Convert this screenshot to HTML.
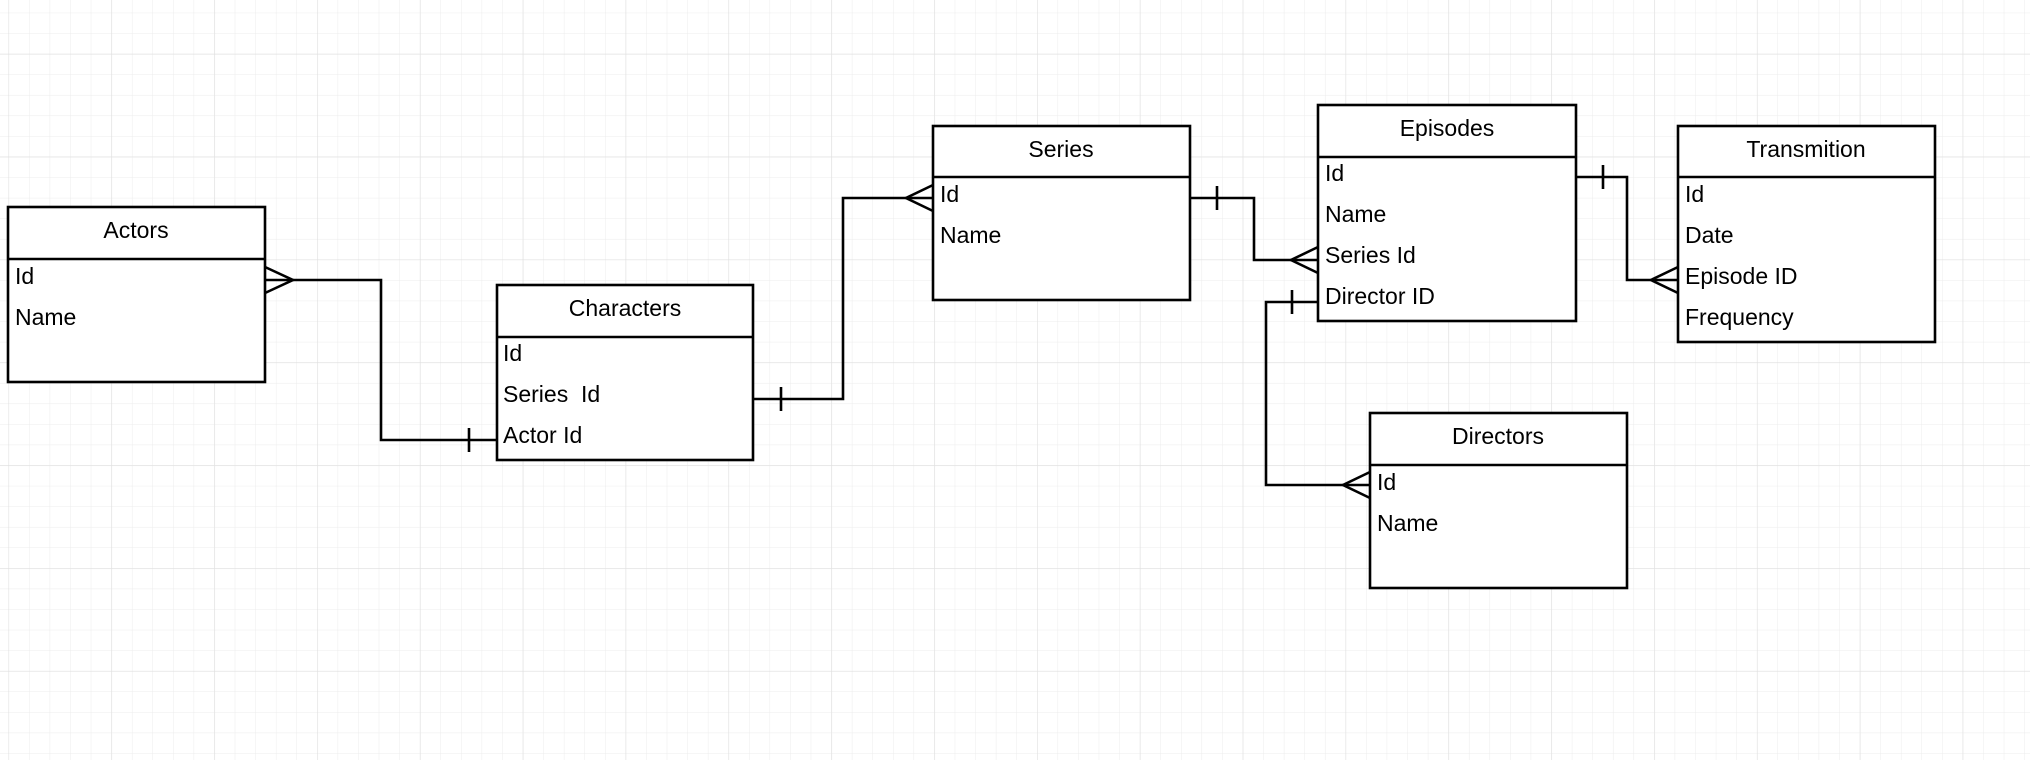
<!DOCTYPE html>
<html><head><meta charset="utf-8"><style>
html,body{margin:0;padding:0;background:#fff;}
svg{display:block;}
text{font-family:"Liberation Sans",sans-serif;font-size:23px;fill:#000;}
</style></head><body>
<svg width="2030" height="760" xmlns="http://www.w3.org/2000/svg">
<defs>
<pattern id="minor" x="8.5" y="12.7" width="20.57" height="20.57" patternUnits="userSpaceOnUse">
<path d="M0 0H20.57M0 0V20.57" stroke="#ececec" stroke-width="1" fill="none"/>
</pattern>
<pattern id="major" x="8.5" y="53.8" width="102.85" height="102.85" patternUnits="userSpaceOnUse">
<path d="M0 0H102.85M0 0V102.85" stroke="#e0e0e0" stroke-width="1.2" fill="none"/>
</pattern>
</defs>
<rect width="2030" height="760" fill="#fff"/>
<rect width="2030" height="760" fill="url(#minor)"/>
<rect width="2030" height="760" fill="url(#major)"/>

<g fill="none" stroke="#000" stroke-width="2.6">
<rect x="8" y="207" width="257" height="175" fill="#fff"/><line x1="8" y1="259" x2="265" y2="259"/>
<rect x="497" y="285" width="256" height="175" fill="#fff"/><line x1="497" y1="337" x2="753" y2="337"/>
<rect x="933" y="126" width="257" height="174" fill="#fff"/><line x1="933" y1="177" x2="1190" y2="177"/>
<rect x="1318" y="105" width="258" height="216" fill="#fff"/><line x1="1318" y1="157" x2="1576" y2="157"/>
<rect x="1678" y="126" width="257" height="216" fill="#fff"/><line x1="1678" y1="177" x2="1935" y2="177"/>
<rect x="1370" y="413" width="257" height="175" fill="#fff"/><line x1="1370" y1="465" x2="1627" y2="465"/>

<polyline points="265,280 381,280 381,440 497,440"/>
<polyline points="265,267 293,280 265,293"/>
<line x1="469" y1="428" x2="469" y2="452"/>

<polyline points="753,399 843,399 843,198 933,198"/>
<line x1="781" y1="387" x2="781" y2="411"/>
<polyline points="933,185 906,198 933,211"/>

<polyline points="1190,198 1254,198 1254,260 1318,260"/>
<line x1="1217" y1="186" x2="1217" y2="210"/>
<polyline points="1318,247 1291,260 1318,273"/>

<polyline points="1576,177 1627,177 1627,280 1678,280"/>
<line x1="1603" y1="165" x2="1603" y2="189"/>
<polyline points="1678,267 1651,280 1678,293"/>

<polyline points="1318,302 1266,302 1266,485 1370,485"/>
<line x1="1292" y1="290" x2="1292" y2="314"/>
<polyline points="1370,472 1343,485 1370,498"/>
</g>

<g text-anchor="middle">
<text x="136" y="238">Actors</text>
<text x="625" y="316">Characters</text>
<text x="1061" y="157">Series</text>
<text x="1447" y="136">Episodes</text>
<text x="1806" y="157">Transmition</text>
<text x="1498" y="444">Directors</text>
</g>
<g>
<text x="15" y="284">Id</text><text x="15" y="325">Name</text>
<text x="503" y="361">Id</text><text x="503" y="402" xml:space="preserve">Series  Id</text><text x="503" y="443">Actor Id</text>
<text x="940" y="202">Id</text><text x="940" y="243">Name</text>
<text x="1325" y="181">Id</text><text x="1325" y="222">Name</text><text x="1325" y="263">Series Id</text><text x="1325" y="304">Director ID</text>
<text x="1685" y="202">Id</text><text x="1685" y="243">Date</text><text x="1685" y="284">Episode ID</text><text x="1685" y="325">Frequency</text>
<text x="1377" y="490">Id</text><text x="1377" y="531">Name</text>
</g>
</svg>
</body></html>
